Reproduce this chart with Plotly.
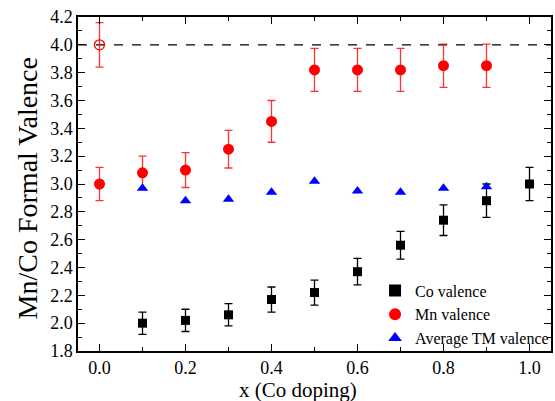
import plotly.graph_objects as go

x_co = [0.1, 0.2, 0.3, 0.4, 0.5, 0.6, 0.7, 0.8, 0.9, 1.0]
co_val = [2.00, 2.02, 2.06, 2.17, 2.22, 2.37, 2.56, 2.74, 2.88, 3.00]
co_err = [0.08, 0.08, 0.08, 0.09, 0.09, 0.095, 0.10, 0.11, 0.12, 0.12]

x_mn = [0.0, 0.1, 0.2, 0.3, 0.4, 0.5, 0.6, 0.7, 0.8, 0.9]
mn_val = [3.00, 3.08, 3.10, 3.25, 3.45, 3.82, 3.82, 3.82, 3.85, 3.85]
mn_err = [0.12, 0.12, 0.125, 0.135, 0.15, 0.155, 0.155, 0.155, 0.155, 0.155]

x_open = [0.0]
open_val = [4.0]
open_err = [0.16]

x_avg = [0.1, 0.2, 0.3, 0.4, 0.5, 0.6, 0.7, 0.8, 0.9]
avg_val = [2.97, 2.88, 2.89, 2.94, 3.02, 2.95, 2.94, 2.97, 2.98]

FONT = "'Liberation Serif', 'Times New Roman', Times, serif"

fig = go.Figure()

fig.add_trace(go.Scatter(
    x=[-0.05, 1.05], y=[4.0, 4.0], mode="lines",
    line=dict(color="black", width=1.2, dash="dash"),
    showlegend=False, hoverinfo="skip"))

fig.add_trace(go.Scatter(
    x=x_co, y=co_val, mode="markers", name="Co valence",
    marker=dict(symbol="square", size=9, color="black"),
    error_y=dict(type="data", array=co_err, color="black", thickness=1.3, width=4)))

fig.add_trace(go.Scatter(
    x=x_mn, y=mn_val, mode="markers", name="Mn valence",
    marker=dict(symbol="circle", size=11, color="red"),
    error_y=dict(type="data", array=mn_err, color="rgba(255,0,0,0.8)", thickness=1.3, width=4)))

fig.add_trace(go.Scatter(
    x=x_open, y=open_val, mode="markers", showlegend=False,
    marker=dict(symbol="circle-open", size=10, color="red", line=dict(width=1.3)),
    error_y=dict(type="data", array=open_err, color="rgba(255,0,0,0.8)", thickness=1.3, width=4)))

fig.add_trace(go.Scatter(
    x=x_avg, y=avg_val, mode="markers", name="Average TM valence",
    marker=dict(symbol="triangle-up", size=10, color="blue")))

fig.update_layout(
    width=555, height=401,
    margin=dict(l=78, r=1, t=17, b=50),
    paper_bgcolor="white", plot_bgcolor="white",
    font=dict(family=FONT, color="black"),
    legend=dict(x=0.628, y=0.232, xanchor="left", yanchor="top",
                bgcolor="rgba(0,0,0,0)", font=dict(size=16, family=FONT),
                tracegroupgap=0, itemsizing="constant"),
    xaxis=dict(range=[-0.05, 1.05], dtick=0.2, tick0=0, tickformat=".1f",
               ticks="inside", ticklen=7, tickwidth=1.3, tickcolor="black",
               minor=dict(dtick=0.1, ticks="inside", ticklen=4, tickwidth=1.3, tickcolor="black"),
               showline=True, linecolor="black", linewidth=1.5, mirror="allticks",
               showgrid=False, zeroline=False, tickfont=dict(size=18, family=FONT)),
    yaxis=dict(range=[1.8, 4.2], dtick=0.2, tick0=1.8, tickformat=".1f",
               ticks="inside", ticklen=7, tickwidth=1.3, tickcolor="black",
               minor=dict(dtick=0.1, ticks="inside", ticklen=4, tickwidth=1.3, tickcolor="black"),
               showline=True, linecolor="black", linewidth=1.5, mirror="allticks",
               showgrid=False, zeroline=False, tickfont=dict(size=18, family=FONT)),
    annotations=[
        dict(text="Mn/Co Formal Valence", xref="paper", yref="paper",
             x=-0.107, y=0.488, xanchor="center", yanchor="middle",
             textangle=-90, showarrow=False, font=dict(size=28, family=FONT)),
        dict(text="x (Co doping)", xref="paper", yref="paper",
             x=0.466, y=-0.116, xanchor="center", yanchor="middle",
             showarrow=False, font=dict(size=21, family=FONT)),
    ],
)

fig.write_html(
    "out.html",
    config={"displayModeBar": False},
    post_script="document.body.style.margin='0';document.body.style.overflow='hidden';",
)
